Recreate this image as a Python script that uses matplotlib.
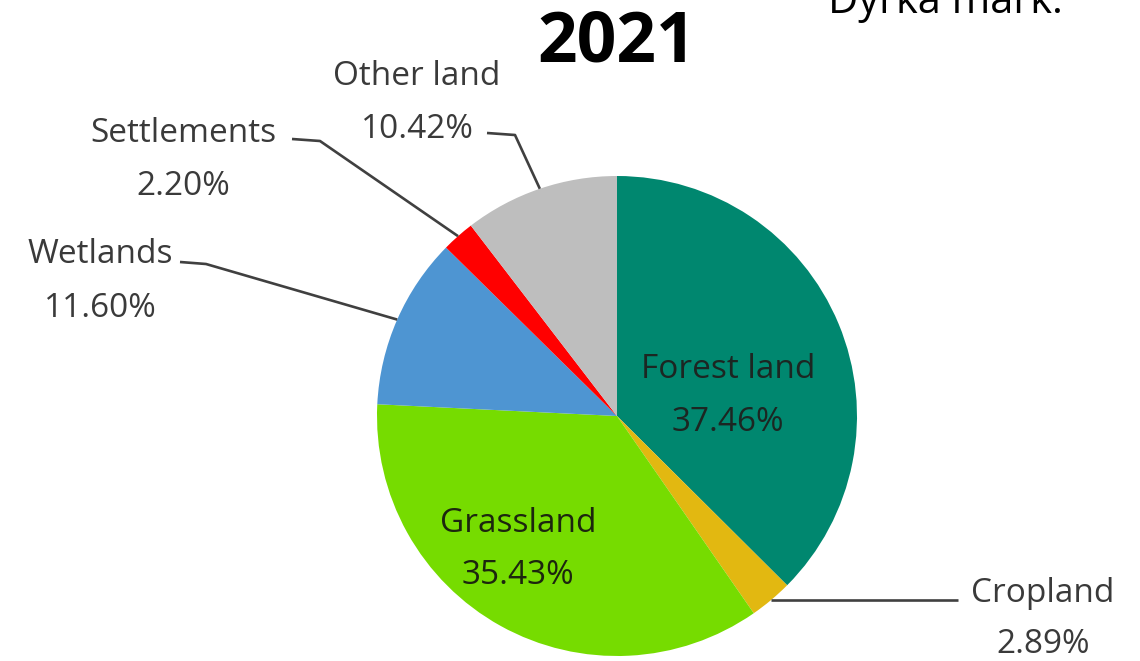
import matplotlib
matplotlib.use("Agg")
import matplotlib.pyplot as plt
import numpy as np

plt.rcParams['font.family'] = ['Open Sans', 'DejaVu Sans']

# ---- data ----
categories = ["Forest land", "Cropland", "Grassland", "Wetlands", "Settlements", "Other land"]
shares = [37.46, 2.89, 35.43, 11.60, 2.20, 10.42]
colors = ["#00876F", "#E2B811", "#76DC00", "#4E95D2", "#FF0000", "#BEBEBE"]
title = "2021"
corner_text = "Dyrka mark."

W, H = 1140, 661
fig = plt.figure(figsize=(W / 100, H / 100), dpi=100)
ax = fig.add_axes([0, 0, 1, 1])

cx, cy, r = 617, H - 416, 240
wedges, _ = ax.pie(shares, colors=colors, startangle=90, counterclock=False,
                   center=(cx, cy), radius=r, frame=True,
                   wedgeprops=dict(linewidth=0))
ax.set_xlim(0, W)
ax.set_ylim(0, H)
ax.set_aspect("auto")
ax.axis("off")

def Y(py):
    return H - py

def edge_point(i):
    w = wedges[i]
    ang = np.deg2rad((w.theta1 + w.theta2) / 2)
    return cx + r * np.cos(ang), cy + r * np.sin(ang)

lab_col = "#3a3a3a"
fs = 24

def two_line(name, val, x, base1, base2, color, ha="center"):
    ax.text(x, Y(base1), name, ha=ha, va="baseline", fontsize=fs, color=color)
    ax.text(x, Y(base2), val, ha=ha, va="baseline", fontsize=fs, color=color)

pct = [f"{v:.2f}%" for v in shares]

# inside labels
two_line(categories[0], pct[0], 728, 378, 431, "#1c2622")
two_line(categories[2], pct[2], 518, 532, 584, "#1c260e")

# outside labels
two_line(categories[1], pct[1], 1043, 602, 653, lab_col)
two_line(categories[3], pct[3], 100, 263, 317, lab_col)
two_line(categories[4], pct[4], 183, 142, 195, lab_col)
two_line(categories[5], pct[5], 417, 85, 138, lab_col)

lk = dict(color="#404040", lw=1.9, solid_capstyle="butt")
# leader lines
px, py = edge_point(1)
ax.plot([px, 958], [py, py], **lk)
px, py = edge_point(5)
ax.plot([487, 515, px], [Y(133), Y(135), py], **lk)
px, py = edge_point(4)
ax.plot([292, 320, px], [Y(139), Y(141), py], **lk)
px, py = edge_point(3)
ax.plot([180, 206, px], [Y(262), Y(264), py], **lk)

ax.text(617, Y(61), title, ha="center", va="baseline", fontsize=50,
        fontweight="bold", color="black")
ax.text(828, Y(13), corner_text, ha="left", va="baseline", fontsize=30,
        color="black")

fig.savefig("out.png", dpi=100)
